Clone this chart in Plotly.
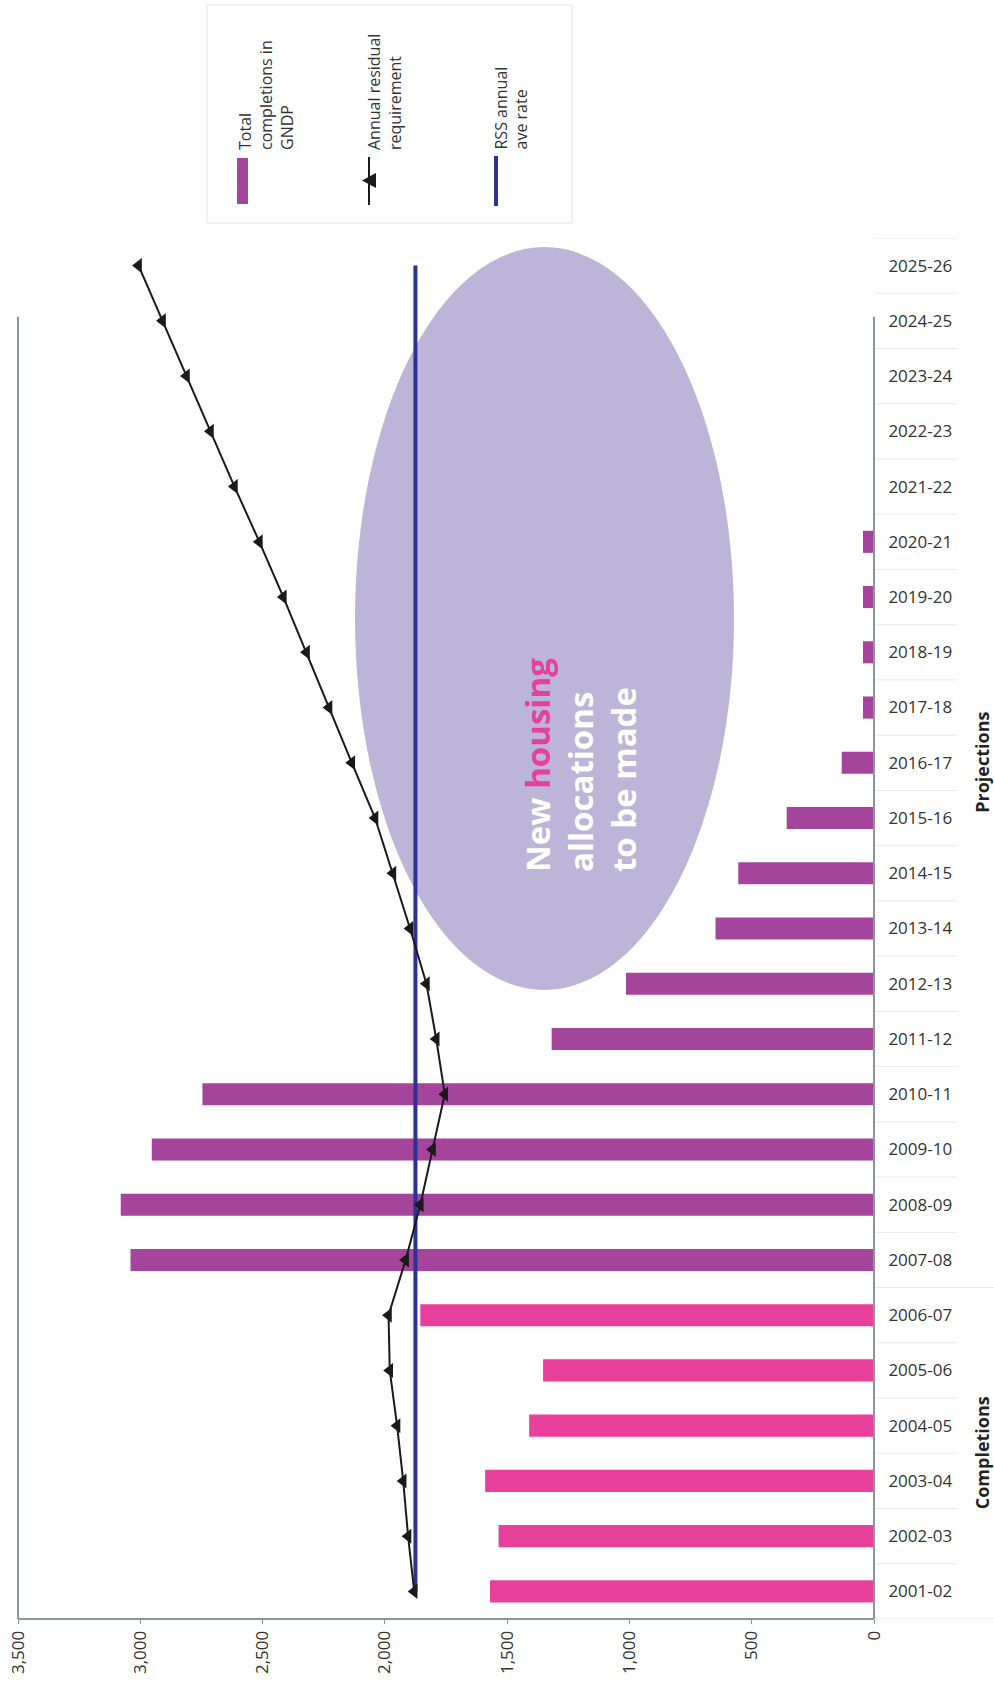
import plotly.graph_objects as go

# ---------------- data ----------------
categories = ["2001-02", "2002-03", "2003-04", "2004-05", "2005-06", "2006-07",
              "2007-08", "2008-09", "2009-10", "2010-11", "2011-12", "2012-13",
              "2013-14", "2014-15", "2015-16", "2016-17", "2017-18", "2018-19",
              "2019-20", "2020-21", "2021-22", "2022-23", "2023-24", "2024-25",
              "2025-26"]
phase = ["Completions"] * 6 + ["Projections"] * 19
completions = [1570, 1535, 1590, 1410, 1353, 1855,
               3040, 3080, 2953, 2746, 1318, 1014,
               648, 555, 357, 132, 45, 45,
               45, 45, 0, 0, 0, 0,
               0]
residual = [1880, 1905, 1925, 1950, 1980, 1985,
            1915, 1855, 1805, 1755, 1790, 1830,
            1897, 1967, 2040, 2135, 2228, 2320,
            2415, 2513, 2615, 2713, 2811, 2909,
            3007]
rss_rate = 1875
value_ticks = [0, 500, 1000, 1500, 2000, 2500, 3000, 3500]

# ---------------- style ----------------
W, H = 994, 1686
PINK = "#E6409A"
PURPLE = "#A4449A"
BLUE = "#2E3192"
LAVENDER = "#BDB5D8"
BLACK = "#1a1a1a"
FRAME = "#8C959D"
TXT = "#333333"
FONT = "Open Sans"


def px(x):
    return x / W


def py(y):
    return 1 - y / H


PLOT_L, PLOT_R = 18, 874
PLOT_T, PLOT_B = 238, 1619
FRAME_T = 317

bar_colors = [PINK if p == "Completions" else PURPLE for p in phase]

fig = go.Figure()
fig.add_trace(go.Bar(
    y=categories, x=completions, orientation="h",
    marker=dict(color=bar_colors, line=dict(width=0)),
    showlegend=False, hoverinfo="x+y"))
fig.add_trace(go.Scatter(
    y=categories, x=[rss_rate] * len(categories), mode="lines",
    line=dict(color=BLUE, width=4), showlegend=False))
fig.add_trace(go.Scatter(
    y=categories, x=residual, mode="lines+markers",
    line=dict(color=BLACK, width=2),
    marker=dict(symbol="triangle-left", size=13, color=BLACK, line=dict(width=0)),
    showlegend=False))

shapes = []
# ellipse
shapes.append(dict(type="circle", xref="paper", yref="paper",
                   x0=px(355), x1=px(734), y0=py(990), y1=py(247),
                   fillcolor=LAVENDER, line=dict(width=0), layer="below"))
# frame
for (x0, y0, x1, y1) in [(PLOT_L, FRAME_T, PLOT_L, PLOT_B),
                         (PLOT_R, FRAME_T, PLOT_R, PLOT_B),
                         (PLOT_L, PLOT_B, PLOT_R, PLOT_B)]:
    shapes.append(dict(type="line", xref="paper", yref="paper",
                       x0=px(x0), x1=px(x1), y0=py(y0), y1=py(y1),
                       line=dict(color=FRAME, width=2), layer="above"))
# category separators
n = len(categories)
for i in range(n + 1):
    pos = i - 0.5
    long_line = (i == 0) or (i < n and i > 0 and phase[i] != phase[i - 1])
    shapes.append(dict(type="line", xref="paper", yref="y",
                       x0=px(PLOT_R), x1=px(994 if long_line else 957),
                       y0=pos, y1=pos,
                       line=dict(color="#E8E8E8", width=1), layer="below"))
# legend box
shapes.append(dict(type="rect", xref="paper", yref="paper",
                   x0=px(207), x1=px(572), y0=py(223), y1=py(5),
                   line=dict(color="#E4E4E4", width=1), fillcolor="rgba(0,0,0,0)"))
# legend glyphs
shapes.append(dict(type="rect", xref="paper", yref="paper",
                   x0=px(237), x1=px(248), y0=py(204), y1=py(158),
                   line=dict(width=0), fillcolor=PURPLE))
shapes.append(dict(type="line", xref="paper", yref="paper",
                   x0=px(369), x1=px(369), y0=py(205), y1=py(157),
                   line=dict(color=BLACK, width=2)))
shapes.append(dict(type="path", xref="paper", yref="paper",
                   path=f"M {px(362)},{py(180.5)} L {px(376)},{py(173)} L {px(376)},{py(188)} Z",
                   fillcolor=BLACK, line=dict(width=0)))
shapes.append(dict(type="line", xref="paper", yref="paper",
                   x0=px(496), x1=px(496), y0=py(206), y1=py(156),
                   line=dict(color=BLUE, width=4)))

annotations = []
legend_items = [("Total<br>completions in<br>GNDP", 266),
                ("Annual residual<br>requirement", 384),
                ("RSS annual<br>ave rate", 511)]
for text, xc in legend_items:
    annotations.append(dict(text=text, xref="paper", yref="paper",
                            x=px(xc), y=py(152), xanchor="center", yanchor="bottom",
                            textangle=-90, align="left", showarrow=False,
                            font=dict(family=FONT, size=16, color=TXT)))

# group labels
annotations.append(dict(text="<b>Projections</b>", xref="paper", yref="y",
                        x=px(982), y=15, xanchor="center", yanchor="middle",
                        textangle=-90, showarrow=False,
                        font=dict(family=FONT, size=18, color="#222222")))
annotations.append(dict(text="<b>Completions</b>", xref="paper", yref="y",
                        x=px(982), y=2.5, xanchor="center", yanchor="middle",
                        textangle=-90, showarrow=False,
                        font=dict(family=FONT, size=18, color="#222222")))

# ellipse text
annotations.append(dict(
    text=f"<b>New <span style='color:{PINK}'>housing</span></b><br><b>allocations</b><br><b>to be made</b>",
    xref="paper", yref="paper", x=px(580), y=py(765),
    xanchor="center", yanchor="middle", textangle=-90, align="left",
    showarrow=False, font=dict(family=FONT, size=33, color="white")))

fig.update_layout(
    width=W, height=H,
    margin=dict(l=0, r=0, t=0, b=0),
    paper_bgcolor="white", plot_bgcolor="rgba(0,0,0,0)",
    bargap=0.6,
    showlegend=False,
    shapes=shapes, annotations=annotations,
    xaxis=dict(domain=[px(PLOT_L), px(PLOT_R)], range=[3500, 0],
               tickvals=value_ticks, tickformat=",", tickangle=-90,
               ticks="outside", ticklen=4, tickcolor=FRAME, tickwidth=1,
               showgrid=False, zeroline=False, showline=False,
               automargin=False, ticklabelstandoff=0,
               tickfont=dict(family=FONT, size=17, color=TXT)),
    yaxis=dict(domain=[py(PLOT_B), py(PLOT_T)], range=[-0.5, n - 0.5],
               type="category", categoryorder="array", categoryarray=categories,
               side="right", ticks="outside", ticklen=10,
               tickcolor="rgba(0,0,0,0)",
               showgrid=False, zeroline=False, showline=False,
               automargin=False,
               tickfont=dict(family=FONT, size=17, color=TXT)),
)

fig.write_html("out.html")
